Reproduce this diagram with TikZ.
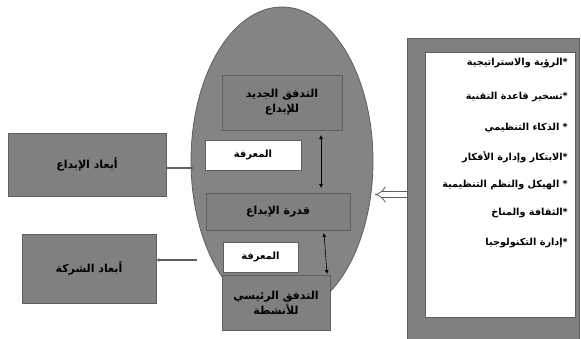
\documentclass[tikz,border=0pt]{standalone}
\usepackage{fontspec}
\usetikzlibrary{arrows.meta,shapes.geometric}
\TeXXeTstate=1
\newfontfamily\arabicfont[Script=Arabic]{DejaVu Sans}
\definecolor{gfill}{RGB}{132,132,132}
\definecolor{gbox}{RGB}{128,128,128}
\definecolor{gline}{RGB}{95,95,95}
\tikzset{
  graybox/.style={draw=gline, line width=0.9pt, fill=gbox, inner sep=0pt, font=\arabicfont\bfseries\fontsize{11}{15}\selectfont, align=center},
  whitebox/.style={draw=gline, line width=0.6pt, fill=white, inner sep=0pt, font=\arabicfont\bfseries\fontsize{10}{12}\selectfont},
  listtxt/.style={anchor=east, inner sep=0pt, font=\arabicfont\bfseries\fontsize{9.7}{12}\selectfont},
  conn/.style={draw=gline, line width=1.6pt},
}
\begin{document}
\begin{tikzpicture}[x=1pt,y=-1pt]
\useasboundingbox (0,0) rectangle (581,338);
% ellipse
\node (ell) [draw=gline, line width=0.8pt, fill=gfill, ellipse, minimum width=182pt, minimum height=308pt, inner sep=0pt] at (282,161) {};
% right box
\node (rb) [draw=gline, line width=0.6pt, fill=gbox, minimum width=172pt, minimum height=302pt, inner sep=0pt] at (493.5,189) {};
\node (rbi) [draw=gline, line width=0.6pt, fill=white, minimum width=150pt, minimum height=265pt, inner sep=0pt] at (500,184.5) {};
\node (l1) [listtxt] at (568,63) {\beginR *الرؤية والاستراتيجية\endR};
\node (l2) [listtxt] at (568,97) {\beginR *تسخير قاعدة التقنية\endR};
\node (l3) [listtxt] at (568,128) {\beginR * الذكاء التنظيمي\endR};
\node (l4) [listtxt] at (568,157) {\beginR *الابتكار وإدارة الأفكار\endR};
\node (l5) [listtxt] at (568,185) {\beginR * الهيكل والنظم التنظيمية\endR};
\node (l6) [listtxt] at (568,213) {\beginR *الثقافة والمناخ\endR};
\node (l7) [listtxt] at (568,243) {\beginR *إدارة التكنولوجيا\endR};
% boxes inside ellipse
\node (b1) [graybox, minimum width=120pt, minimum height=55pt] at (282,102.5) {\beginR التدفق الجديد\endR\\\beginR للإبداع\endR};
\node (k1) [whitebox, minimum width=96pt, minimum height=30pt] at (253,155) {\beginR المعرفة\endR};
\node (b2) [graybox, minimum width=144pt, minimum height=37pt] at (278,211.5) {\beginR قدرة الإبداع\endR};
\node (k2) [whitebox, minimum width=75pt, minimum height=30pt] at (260.5,257) {\beginR المعرفة\endR};
\node (b3) [graybox, minimum width=108pt, minimum height=55pt] at (276,302.5) {\beginR التدفق الرئيسي\endR\\\beginR للأنشطة\endR};
% left boxes
\node (lb1) [graybox, minimum width=158pt, minimum height=63pt] at (87,164.5) {\beginR أبعاد الإبداع\endR};
\node (lb2) [graybox, minimum width=134pt, minimum height=69pt] at (89,268.5) {\beginR أبعاد الشركة\endR};
% connectors
\coordinate (a1t) at (321,135);
\coordinate (a1b) at (321,188);
\draw[black, line width=0.6pt, {Latex[length=4pt,width=4pt]}-{Latex[length=4pt,width=4pt]}] (a1t) -- (a1b);
\coordinate (a2t) at (324,233);
\coordinate (a2b) at (327,274);
\draw[black, line width=0.6pt, {Latex[length=4pt,width=4pt]}-{Latex[length=4pt,width=4pt]}] (a2t) -- (a2b);
\coordinate (e1) at (193,168);
\draw[conn] (lb1.east |- e1) -- (e1);
\coordinate (e2) at (197,260);
\draw[conn, -{Latex[length=3pt,width=4pt]}] (e2) -- (lb2.east |- e2);
\coordinate (e3) at (375,194.5);
\draw[draw=gline, line width=0.8pt, double=white, double distance=5pt, -{Implies}] (rb.west |- e3) -- (e3);
\end{tikzpicture}
\end{document}
